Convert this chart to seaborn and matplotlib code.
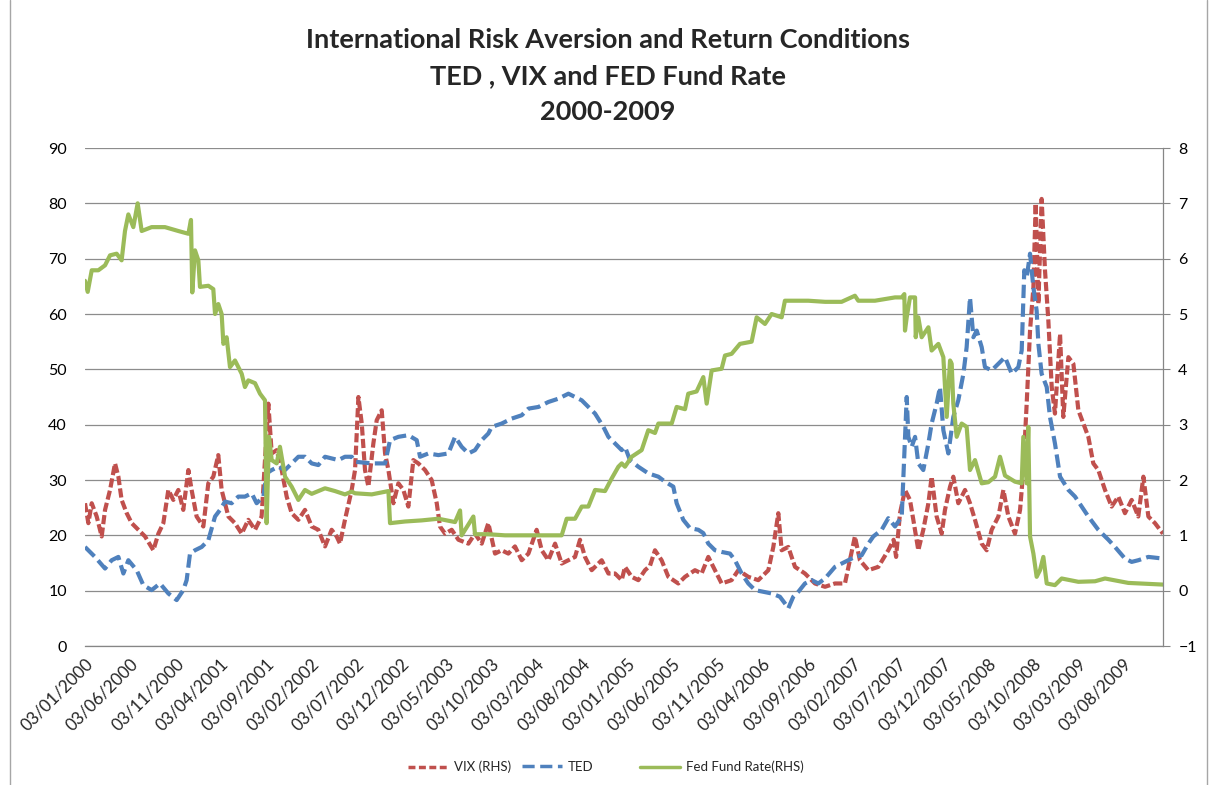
import numpy as np
import pandas as pd
import matplotlib
matplotlib.use("Agg")
import matplotlib.pyplot as plt
import matplotlib.dates as mdates
from matplotlib.lines import Line2D
import seaborn as sns

# ---------------- data (time as decimal years) ----------------
vix_t = [2000.000, 2000.031, 2000.062, 2000.108, 2000.154, 2000.185, 2000.231, 2000.277, 2000.308, 2000.338,
         2000.385, 2000.431, 2000.492, 2000.554, 2000.631, 2000.677, 2000.723, 2000.769, 2000.815, 2000.861,
         2000.907, 2000.954, 2000.984, 2001.030, 2001.092, 2001.138, 2001.184, 2001.230, 2001.261, 2001.323,
         2001.384, 2001.446, 2001.507, 2001.569, 2001.630, 2001.692, 2001.723, 2001.769, 2001.815, 2001.861,
         2001.907, 2001.969, 2002.030, 2002.092, 2002.153, 2002.215, 2002.276, 2002.322, 2002.353, 2002.399,
         2002.461, 2002.492, 2002.523, 2002.554, 2002.584, 2002.615, 2002.661, 2002.692, 2002.738, 2002.769,
         2002.800, 2002.846, 2002.892, 2002.938, 2002.984, 2003.030, 2003.076, 2003.138, 2003.199, 2003.246,
         2003.276, 2003.323, 2003.384, 2003.446, 2003.538, 2003.599, 2003.661, 2003.722, 2003.784, 2003.845,
         2003.907, 2003.968, 2004.030, 2004.092, 2004.168, 2004.215, 2004.276, 2004.338, 2004.399, 2004.461,
         2004.522, 2004.568, 2004.614, 2004.676, 2004.768, 2004.830, 2004.891, 2004.953, 2004.983, 2005.045,
         2005.106, 2005.168, 2005.214, 2005.260, 2005.321, 2005.383, 2005.475, 2005.537, 2005.629, 2005.690,
         2005.752, 2005.814, 2005.875, 2005.967, 2006.029, 2006.121, 2006.213, 2006.306, 2006.352, 2006.398,
         2006.429, 2006.490, 2006.552, 2006.644, 2006.736, 2006.829, 2006.921, 2007.013, 2007.105, 2007.151,
         2007.229, 2007.321, 2007.413, 2007.462, 2007.485, 2007.521, 2007.567, 2007.613, 2007.644, 2007.690,
         2007.736, 2007.783, 2007.813, 2007.859, 2007.906, 2007.936, 2007.983, 2008.013, 2008.059, 2008.121,
         2008.167, 2008.213, 2008.275, 2008.321, 2008.367, 2008.429, 2008.475, 2008.521, 2008.582, 2008.629,
         2008.659, 2008.690, 2008.721, 2008.752, 2008.773, 2008.798, 2008.828, 2008.859, 2008.890, 2008.921,
         2008.951, 2008.998, 2009.028, 2009.075, 2009.121, 2009.167, 2009.213, 2009.259, 2009.305, 2009.351,
         2009.413, 2009.474, 2009.536, 2009.597, 2009.659, 2009.720, 2009.767, 2009.813, 2009.874, 2009.948]
vix_v = [25.8, 22.2, 25.8, 23.4, 19.8, 24.6, 28.2, 33.0, 30.6, 26.4,
         24.0, 22.2, 21.0, 19.8, 17.3, 20.3, 22.2, 28.2, 26.4, 28.2,
         24.6, 31.8, 28.2, 23.4, 21.6, 29.4, 30.6, 34.5, 28.2, 23.4,
         22.2, 20.3, 22.8, 21.0, 23.4, 43.8, 34.8, 35.4, 31.8, 27.0,
         24.0, 22.8, 24.6, 21.6, 21.0, 18.0, 21.0, 19.8, 18.5, 22.8,
         28.2, 31.8, 45.0, 40.2, 31.8, 28.8, 36.6, 40.8, 42.6, 34.8,
         31.8, 25.8, 29.4, 28.2, 25.2, 33.6, 33.0, 31.8, 30.0, 25.8,
         21.6, 20.3, 21.0, 19.2, 18.5, 20.3, 18.5, 22.2, 16.7, 17.3,
         16.7, 18.0, 15.5, 16.7, 21.0, 17.3, 15.5, 18.5, 14.9, 15.5,
         16.1, 19.2, 16.1, 13.7, 15.5, 13.1, 13.1, 11.9, 14.3, 12.5,
         11.9, 13.7, 14.5, 17.3, 15.5, 12.5, 11.3, 12.5, 13.7, 13.1,
         16.1, 13.7, 11.3, 11.9, 13.7, 12.5, 11.9, 13.7, 17.9, 24.0,
         17.3, 17.9, 14.3, 13.1, 11.3, 10.7, 11.3, 11.3, 19.8, 15.5,
         13.7, 14.3, 17.3, 19.2, 16.1, 24.0, 28.2, 26.4, 22.8, 17.3,
         21.0, 25.8, 30.6, 23.4, 20.3, 24.6, 28.8, 30.6, 25.8, 28.2,
         25.8, 22.8, 18.5, 17.3, 21.0, 23.4, 28.2, 23.4, 20.3, 24.6,
         31.8, 43.8, 57.0, 64.8, 80.0, 61.8, 80.8, 67.9, 58.8, 46.8,
         42.0, 56.4, 41.4, 52.2, 51.0, 42.6, 40.2, 37.8, 33.0, 31.8,
         28.2, 25.2, 27.0, 24.0, 26.4, 23.4, 30.6, 23.4, 22.2, 20.3]

ted_t = [2000.000, 2000.092, 2000.185, 2000.246, 2000.308, 2000.354, 2000.400, 2000.477, 2000.538, 2000.615,
         2000.692, 2000.769, 2000.846, 2000.907, 2000.938, 2000.969, 2001.015, 2001.077, 2001.138, 2001.200,
         2001.246, 2001.292, 2001.353, 2001.415, 2001.476, 2001.538, 2001.584, 2001.646, 2001.676, 2001.723,
         2001.784, 2001.846, 2001.907, 2001.969, 2002.030, 2002.092, 2002.153, 2002.215, 2002.276, 2002.338,
         2002.399, 2002.461, 2002.492, 2002.646, 2002.769, 2002.815, 2002.892, 2002.984, 2003.061, 2003.092,
         2003.169, 2003.261, 2003.353, 2003.415, 2003.476, 2003.538, 2003.599, 2003.661, 2003.722, 2003.753,
         2003.845, 2003.938, 2004.030, 2004.092, 2004.184, 2004.276, 2004.369, 2004.461, 2004.522, 2004.584,
         2004.645, 2004.707, 2004.784, 2004.830, 2004.891, 2004.953, 2004.983, 2005.029, 2005.106, 2005.198,
         2005.291, 2005.352, 2005.429, 2005.460, 2005.521, 2005.583, 2005.660, 2005.706, 2005.752, 2005.814,
         2005.875, 2005.952, 2005.998, 2006.060, 2006.121, 2006.183, 2006.260, 2006.336, 2006.413, 2006.459,
         2006.490, 2006.536, 2006.583, 2006.644, 2006.706, 2006.767, 2006.829, 2006.921, 2006.982, 2007.044,
         2007.105, 2007.167, 2007.229, 2007.275, 2007.352, 2007.413, 2007.475, 2007.537, 2007.583, 2007.598,
         2007.629, 2007.660, 2007.690, 2007.736, 2007.783, 2007.813, 2007.859, 2007.890, 2007.921, 2007.967,
         2008.013, 2008.059, 2008.106, 2008.136, 2008.167, 2008.198, 2008.229, 2008.275, 2008.305, 2008.367,
         2008.429, 2008.490, 2008.552, 2008.613, 2008.644, 2008.668, 2008.690, 2008.721, 2008.752, 2008.782,
         2008.798, 2008.828, 2008.875, 2008.905, 2008.951, 2008.998, 2009.075, 2009.136, 2009.198, 2009.259,
         2009.351, 2009.444, 2009.505, 2009.597, 2009.659, 2009.720, 2009.813, 2009.948]
ted_v = [17.9, 16.1, 14.0, 15.5, 16.1, 13.1, 15.5, 13.7, 11.0, 10.1,
         11.3, 9.5, 8.3, 10.1, 11.9, 16.7, 17.3, 17.9, 19.1, 23.4,
         24.6, 26.1, 25.8, 27.0, 27.0, 27.6, 25.8, 27.0, 31.2, 31.8,
         32.4, 31.8, 33.0, 34.2, 34.2, 33.0, 32.7, 34.2, 33.9, 33.6,
         34.2, 34.2, 33.3, 33.0, 33.0, 37.2, 37.8, 38.1, 37.2, 34.2,
         34.8, 34.5, 34.8, 37.8, 36.0, 34.8, 35.4, 37.2, 38.4, 39.6,
         40.2, 41.1, 41.7, 42.9, 43.2, 44.1, 44.7, 45.6, 45.0, 44.4,
         43.2, 42.0, 39.6, 37.8, 36.6, 35.4, 36.0, 33.6, 32.4, 31.2,
         30.6, 29.7, 28.8, 25.8, 22.8, 21.3, 21.0, 20.4, 18.5, 17.3,
         17.0, 16.7, 15.5, 13.1, 11.3, 10.1, 9.8, 9.5, 8.9, 7.7,
         6.8, 8.9, 9.8, 11.3, 11.9, 11.3, 12.2, 14.3, 14.9, 15.5,
         16.1, 16.4, 18.5, 19.8, 21.0, 23.1, 21.6, 23.4, 45.0, 37.8,
         36.0, 37.8, 33.0, 31.8, 36.6, 40.2, 43.8, 46.8, 39.0, 34.8,
         41.4, 44.4, 49.2, 54.0, 63.0, 55.8, 57.0, 54.0, 50.4, 49.8,
         51.0, 52.2, 49.2, 50.4, 53.4, 67.9, 66.6, 70.9, 64.8, 60.6,
         54.6, 49.2, 46.8, 41.4, 36.6, 30.6, 28.2, 27.0, 25.2, 23.4,
         21.0, 19.2, 17.9, 15.8, 15.2, 15.5, 16.1, 15.8]

fed_t = [2000.000, 2000.025, 2000.062, 2000.123, 2000.185, 2000.231, 2000.292, 2000.338, 2000.369, 2000.400,
         2000.446, 2000.486, 2000.523, 2000.615, 2000.738, 2000.861, 2000.954, 2000.978, 2000.990, 2001.015,
         2001.046, 2001.061, 2001.138, 2001.184, 2001.200, 2001.230, 2001.261, 2001.277, 2001.307, 2001.338,
         2001.384, 2001.446, 2001.476, 2001.507, 2001.569, 2001.615, 2001.661, 2001.676, 2001.698, 2001.723,
         2001.769, 2001.799, 2001.846, 2001.907, 2001.969, 2002.030, 2002.092, 2002.153, 2002.215, 2002.307,
         2002.399, 2002.461, 2002.492, 2002.646, 2002.800, 2002.815, 2002.953, 2003.107, 2003.261, 2003.415,
         2003.461, 2003.476, 2003.584, 2003.599, 2003.722, 2003.876, 2004.030, 2004.184, 2004.399, 2004.445,
         2004.522, 2004.584, 2004.645, 2004.707, 2004.799, 2004.861, 2004.922, 2004.953, 2004.983, 2005.045,
         2005.137, 2005.198, 2005.260, 2005.291, 2005.414, 2005.460, 2005.537, 2005.567, 2005.644, 2005.706,
         2005.737, 2005.783, 2005.875, 2005.906, 2005.967, 2006.044, 2006.152, 2006.198, 2006.275, 2006.336,
         2006.429, 2006.459, 2006.675, 2006.829, 2006.982, 2007.105, 2007.136, 2007.290, 2007.475, 2007.537,
         2007.561, 2007.567, 2007.583, 2007.613, 2007.660, 2007.666, 2007.690, 2007.721, 2007.783, 2007.813,
         2007.875, 2007.921, 2007.952, 2007.983, 2007.998, 2008.013, 2008.044, 2008.090, 2008.136, 2008.167,
         2008.213, 2008.275, 2008.336, 2008.398, 2008.444, 2008.490, 2008.582, 2008.644, 2008.659, 2008.690,
         2008.705, 2008.721, 2008.752, 2008.782, 2008.813, 2008.844, 2008.875, 2008.951, 2009.013, 2009.167,
         2009.321, 2009.413, 2009.628, 2009.948]
fed_v = [5.60, 5.40, 5.79, 5.79, 5.88, 6.06, 6.09, 5.97, 6.50, 6.80,
         6.57, 7.00, 6.50, 6.57, 6.57, 6.50, 6.45, 6.70, 5.39, 6.15,
         5.97, 5.49, 5.51, 5.45, 5.00, 5.18, 5.00, 4.46, 4.58, 4.04,
         4.16, 3.92, 3.68, 3.80, 3.75, 3.56, 3.44, 1.22, 2.78, 2.36,
         2.30, 2.60, 2.06, 1.88, 1.64, 1.82, 1.75, 1.80, 1.85, 1.80,
         1.74, 1.79, 1.76, 1.74, 1.80, 1.22, 1.25, 1.27, 1.30, 1.24,
         1.45, 1.00, 1.34, 1.02, 1.02, 1.00, 1.00, 1.00, 1.00, 1.30,
         1.30, 1.52, 1.52, 1.82, 1.80, 2.03, 2.24, 2.30, 2.24, 2.42,
         2.54, 2.90, 2.85, 3.02, 3.02, 3.32, 3.28, 3.56, 3.60, 3.86,
         3.38, 3.98, 4.01, 4.25, 4.28, 4.46, 4.50, 4.94, 4.82, 5.00,
         4.94, 5.24, 5.24, 5.22, 5.22, 5.33, 5.24, 5.24, 5.30, 5.30,
         5.36, 4.70, 4.94, 5.30, 5.30, 4.58, 4.94, 4.58, 4.76, 4.34,
         4.46, 4.22, 3.14, 4.16, 4.10, 3.38, 2.78, 3.02, 2.96, 2.18,
         2.36, 1.94, 1.96, 2.06, 2.42, 2.08, 1.97, 1.94, 2.78, 1.94,
         2.96, 0.98, 0.67, 0.25, 0.37, 0.61, 0.13, 0.10, 0.22, 0.16,
         0.17, 0.22, 0.14, 0.11]

left_ticks = list(range(0, 91, 10))
right_ticks = list(range(-1, 9))
series_names = ["VIX (RHS)", "TED", "Fed Fund Rate(RHS)"]
title_lines = ["International Risk Aversion and Return Conditions",
               "TED , VIX and FED Fund Rate",
               "2000-2009"]

RED, BLUE, GREEN = "#C0504D", "#4F81BD", "#9BBB59"
GRID = "#8C8C8C"


def to_date(t):
    t = np.asarray(t, dtype=float)
    return pd.Timestamp("2000-01-03") + pd.to_timedelta((t - 2000.0) * 365.25, unit="D")


vix_df = pd.DataFrame({"date": to_date(vix_t), "value": vix_v})
ted_df = pd.DataFrame({"date": to_date(ted_t), "value": ted_v})
fed_df = pd.DataFrame({"date": to_date(fed_t), "value": fed_v})

sns.set_style("white")
plt.rcParams["font.family"] = ["Lato", "DejaVu Sans"]

W, H = 1214, 785
fig = plt.figure(figsize=(W / 100, H / 100), dpi=100)
ax = fig.add_axes([85 / W, 1 - 646 / H, (1163 - 85) / W, (646 - 148) / H])
ax2 = ax.twinx()

red_ls = (0, (2.2, 0.8))
blue_ls = (0, (3.2, 1.3))

sns.lineplot(data=vix_df, x="date", y="value", ax=ax, color=RED, linewidth=3.0,
             linestyle=red_ls, estimator=None, sort=False)
sns.lineplot(data=ted_df, x="date", y="value", ax=ax, color=BLUE, linewidth=3.0,
             linestyle=blue_ls, estimator=None, sort=False)
sns.lineplot(data=fed_df, x="date", y="value", ax=ax2, color=GREEN, linewidth=3.0,
             estimator=None, sort=False)

# axes limits and ticks
ax.set_ylim(0, 90)
ax.set_yticks(left_ticks)
ax2.set_ylim(-1, 8)
ax2.set_yticks(right_ticks)
x_end = to_date([2009.948])[0]
ax.set_xlim(to_date([2000.0])[0], x_end)

major = pd.date_range("2000-01-03", periods=24, freq=pd.DateOffset(months=5))
major = [d for d in major if d <= x_end]
minor = pd.date_range("2000-01-03", periods=121, freq=pd.DateOffset(months=1))
minor = [d for d in minor if d <= x_end]
ax.set_xticks(mdates.date2num(major))
ax.set_xticks(mdates.date2num(minor), minor=True)
ax.set_xticklabels([d.strftime("%d/%m/%Y") for d in major], rotation=45,
                   ha="right", va="top", rotation_mode="anchor", fontsize=12.3)

ax.set_xlabel("")
ax.set_ylabel("")
ax2.set_ylabel("")

ax.grid(axis="y", color=GRID, linewidth=0.9)
ax.grid(axis="x", visible=False)
ax.set_axisbelow(True)

for s in ["left", "top", "right"]:
    ax.spines[s].set_visible(False)
ax.spines["bottom"].set_color("#868686")
ax.spines["bottom"].set_linewidth(0.9)
for s in ["left", "top", "bottom"]:
    ax2.spines[s].set_visible(False)
ax2.spines["right"].set_color("#868686")
ax2.spines["right"].set_linewidth(0.9)

ax.tick_params(axis="y", length=0, pad=13, labelsize=11.5, labelcolor="black")
ax.tick_params(axis="x", which="major", direction="in", length=5, color="#868686",
               width=0.8, pad=7)
ax.tick_params(axis="x", which="minor", direction="in", length=4, color="#868686", width=0.8)
ax2.tick_params(axis="y", direction="out", length=5, color="#868686", width=0.8,
                pad=6, labelsize=11.5, labelcolor="black")

# title
fig.text(608 / W, 1 - 28 / H, "\n".join(title_lines), ha="center", va="top",
         fontsize=19.5, fontweight="bold", linespacing=1.6)

# legend: one entry per position, as in the reference
handles = [Line2D([], [], color=RED, lw=2.5, linestyle=(0, (2.0, 1.0))),
           Line2D([], [], color=BLUE, lw=2.5, linestyle=(0, (3.5, 1.6))),
           Line2D([], [], color=GREEN, lw=2.5)]
starts = [408, 522, 640]
for h, name, x0 in zip(handles, series_names, starts):
    fig.legend([h], [name], loc="center left", bbox_to_anchor=(x0 / W, 1 - 767 / H),
               frameon=False, fontsize=9.5, handlelength=3.0, handletextpad=0.45,
               borderpad=0, borderaxespad=0)

# chart border (sides)
fig.add_artist(Line2D([10 / W, 10 / W], [0, 1], color="#A6A6A6", lw=1.0,
                      transform=fig.transFigure))
fig.add_artist(Line2D([1207 / W, 1207 / W], [0, 1], color="#A6A6A6", lw=1.0,
                      transform=fig.transFigure))

fig.savefig("out.png", dpi=100)
